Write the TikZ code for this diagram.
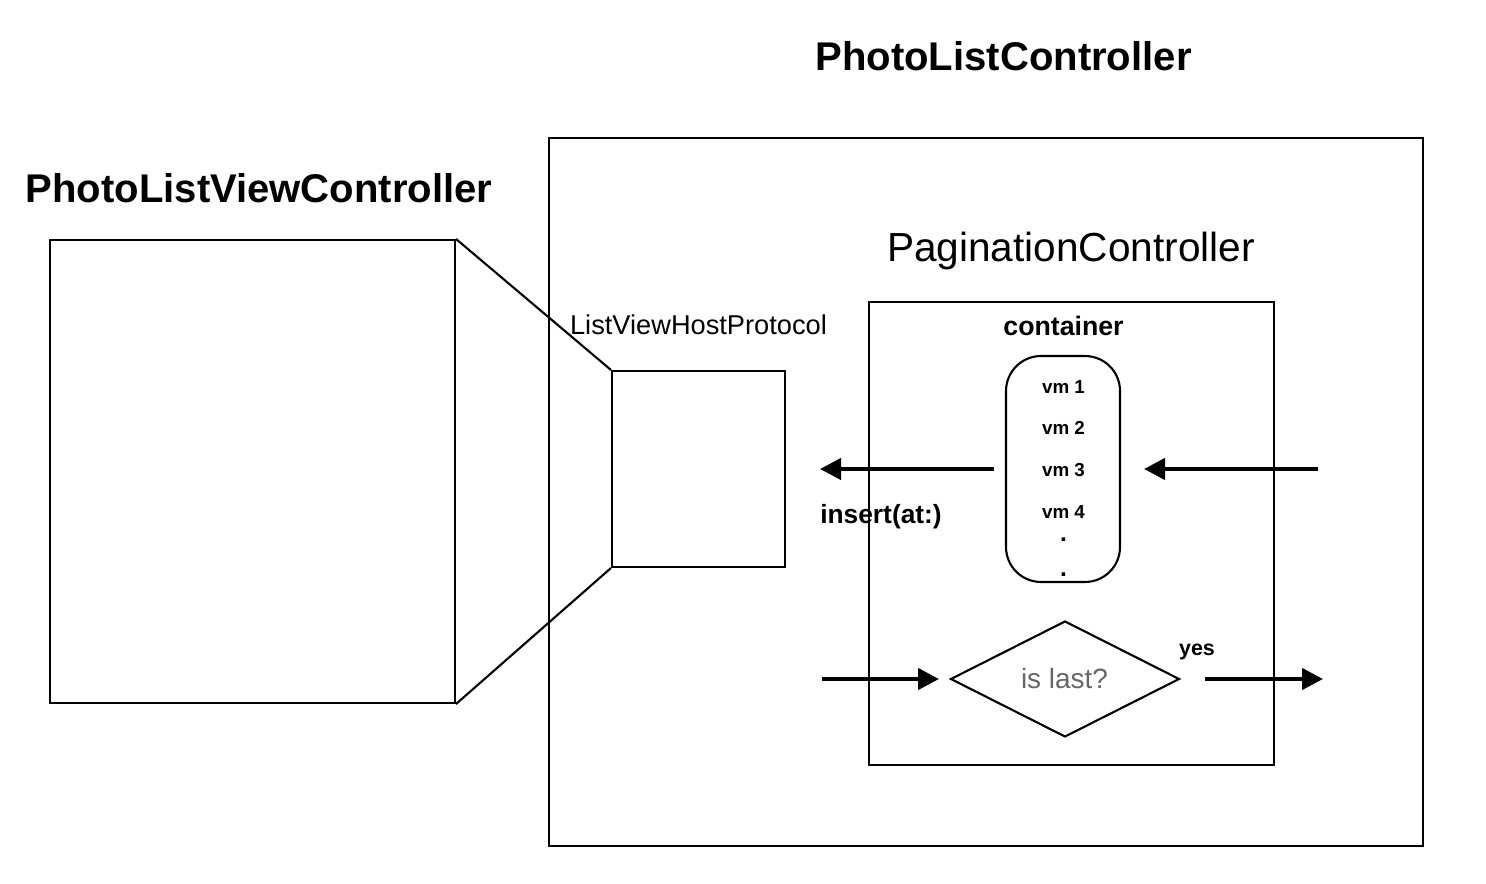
\documentclass[tikz,border=0pt]{standalone}
\usepackage{fontspec}
\setmainfont{Liberation Sans}
\usetikzlibrary{arrows.meta,shapes.geometric}
\definecolor{grtext}{HTML}{666666}
\begin{document}
\begin{tikzpicture}[x=0.02cm,y=-0.02cm,
  box/.style={draw,line width=1.2pt,inner sep=0pt},
  flow/.style={line width=2.4pt,-{Triangle[length=0.42cm,width=0.42cm]}},
  txt/.style={inner sep=0pt,anchor=base},
  link/.style={line width=1.2pt}]
\useasboundingbox (0,0) rectangle (1486,884);
% titles
\node[txt,font=\fontsize{22.8}{26}\selectfont\bfseries] (t1) at (1003.5,71) {PhotoListController};
\node[txt,font=\fontsize{22.8}{26}\selectfont\bfseries] (t2) at (259,203) {PhotoListViewController};
% boxes
\node[box,minimum width=17.48cm,minimum height=14.16cm] (big) at (986,492) {};
\node[box,minimum width=8.1cm,minimum height=9.26cm] (lb) at (252.5,471.5) {};
\node[box,minimum width=3.46cm,minimum height=3.92cm] (sb) at (698.5,469) {};
\node[box,minimum width=8.1cm,minimum height=9.26cm] (pg) at (1071.5,533.5) {};
\draw[link] (lb.north east) -- (sb.north west);
\draw[link] (lb.south east) -- (sb.south west);
% labels
\node[txt,font=\fontsize{15.5}{18}\selectfont] (lvh) at (698.5,335) {ListViewHostProtocol};
\node[txt,font=\fontsize{23.1}{26}\selectfont] (pgt) at (1071,262) {PaginationController};
\node[txt,font=\fontsize{15.2}{18}\selectfont\bfseries] (ct) at (1063.5,336) {container};
% container
\node[box,rounded corners=0.7cm,minimum width=2.28cm,minimum height=4.52cm] (cont) at (1063,469) {};
\foreach \i/\y in {1/394,2/435,3/477,4/519}
  \node[txt,font=\fontsize{10.7}{12}\selectfont\bfseries] (vm\i) at (1063.5,\y) {vm \i};
\node[txt,font=\fontsize{14}{16}\selectfont\bfseries] (d1) at (1063.5,541) {.};
\node[txt,font=\fontsize{14}{16}\selectfont\bfseries] (d2) at (1063.5,576) {.};
% arrows around container
\coordinate (a1s) at (994,469);
\coordinate (a1e) at (820,469);
\coordinate (a2s) at (1318,469);
\coordinate (a2e) at (1144,469);
\draw[flow] (a1s) -- (a1e);
\draw[flow] (a2s) -- (a2e);
\node[txt,font=\fontsize{15}{18}\selectfont\bfseries] (ins) at (881,523) {insert(at:)};
% diamond
\node[draw,line width=1.2pt,diamond,inner sep=0pt,minimum width=4.58cm,minimum height=2.32cm,shape aspect=1.97] (dia) at (1065,679) {};
\node[txt,font=\fontsize{15.9}{18}\selectfont,text=grtext] (isl) at (1064.5,688) {is last?};
\coordinate (b1s) at (822,679);
\coordinate (b1e) at (939,679);
\coordinate (b2s) at (1205,679);
\coordinate (b2e) at (1323,679);
\draw[flow] (b1s) -- (b1e);
\draw[flow] (b2s) -- (b2e);
\node[txt,font=\fontsize{12.2}{14}\selectfont\bfseries] (yes) at (1197,655) {yes};
\end{tikzpicture}
\end{document}
